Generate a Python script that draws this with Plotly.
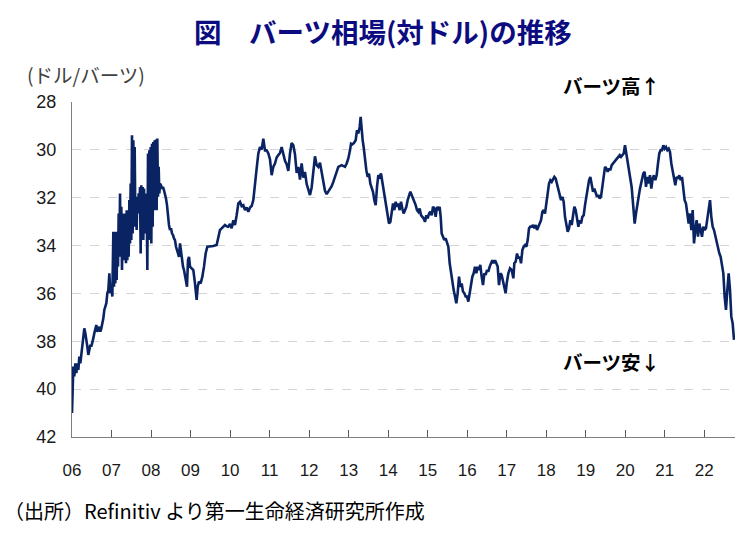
import plotly.graph_objects as go

# ---- data ----
# time as decimal years, THB per USD
t_2006 = [2006.000, 2006.017, 2006.034, 2006.059, 2006.084, 2006.110, 2006.135, 2006.160, 2006.186, 2006.211,
          2006.236, 2006.261, 2006.287, 2006.312, 2006.337, 2006.363, 2006.388, 2006.413, 2006.439, 2006.464,
          2006.489, 2006.515, 2006.540, 2006.565, 2006.590, 2006.616, 2006.641, 2006.666, 2006.692, 2006.717,
          2006.742, 2006.768, 2006.793, 2006.818, 2006.843, 2006.869, 2006.894, 2006.919, 2006.945, 2006.970,
          2006.995, 2007.021]
v_2006 = [41.00, 39.75, 39.06, 39.47, 38.92, 39.33, 38.92, 39.20, 38.64, 38.92,
          38.50, 38.22, 37.66, 37.46, 37.66, 38.08, 38.22, 38.57, 38.36, 38.15,
          38.22, 37.94, 37.87, 37.66, 37.53, 37.32, 37.60, 37.53, 37.39, 37.60,
          37.46, 37.25, 37.04, 36.69, 36.55, 36.41, 35.99, 35.86, 35.16, 35.99,
          35.72, 36.13]

t_2007 = [2007.046, 2007.063, 2007.080, 2007.096, 2007.113, 2007.130, 2007.147, 2007.164, 2007.181, 2007.198,
          2007.215, 2007.231, 2007.248, 2007.265, 2007.282, 2007.299, 2007.316, 2007.333, 2007.350, 2007.366,
          2007.383, 2007.400, 2007.417, 2007.434, 2007.451, 2007.468, 2007.484, 2007.501, 2007.518, 2007.535,
          2007.552, 2007.569, 2007.586, 2007.603, 2007.619, 2007.636, 2007.653, 2007.670, 2007.687, 2007.704,
          2007.721, 2007.737, 2007.754, 2007.771, 2007.788, 2007.805, 2007.822, 2007.839, 2007.856, 2007.872,
          2007.889, 2007.906, 2007.923, 2007.940, 2007.957, 2007.974, 2007.991]
v_2007 = [33.42, 35.72, 33.49, 35.58, 33.42, 35.44, 33.49, 34.88, 32.66, 34.47,
          31.82, 33.77, 32.38, 35.02, 32.66, 34.61, 32.80, 34.47, 32.66, 34.74,
          32.52, 34.61, 33.21, 34.47, 32.10, 33.91, 31.41, 33.77, 29.39, 33.49,
          29.60, 33.21, 29.88, 32.94, 32.10, 33.35, 31.96, 32.66, 31.82, 32.52,
          31.55, 34.33, 31.48, 32.66, 31.55, 33.77, 31.62, 32.94, 31.82, 33.49,
          32.10, 35.02, 30.15, 33.77, 30.02, 33.49, 29.88]

t_2008 = [2008.007, 2008.024, 2008.041, 2008.058, 2008.075, 2008.092, 2008.109, 2008.126, 2008.142, 2008.159,
          2008.176, 2008.193, 2008.210, 2008.227, 2008.252, 2008.277, 2008.302, 2008.328, 2008.353, 2008.378,
          2008.404, 2008.429, 2008.454, 2008.480, 2008.505, 2008.530, 2008.556, 2008.581, 2008.606, 2008.632,
          2008.657, 2008.682, 2008.708, 2008.733, 2008.758, 2008.784, 2008.809, 2008.834, 2008.860, 2008.885,
          2008.910, 2008.935, 2008.961, 2008.986]
v_2008 = [33.91, 29.74, 33.21, 29.67, 32.52, 29.60, 32.10, 29.57, 32.52, 29.53,
          31.96, 30.71, 31.82, 31.41, 31.48, 31.62, 31.55, 31.69, 31.82, 32.03,
          32.31, 32.80, 33.14, 33.35, 33.28, 33.49, 33.56, 33.70, 33.77, 34.05,
          34.19, 34.40, 34.47, 33.91, 34.26, 34.54, 34.88, 35.02, 35.23, 35.44,
          35.72, 34.61, 34.47, 34.88]

t_2009_2012 = [2009.028, 2009.070, 2009.112, 2009.154, 2009.180, 2009.213, 2009.255, 2009.298, 2009.340, 2009.382,
               2009.424, 2009.492, 2009.576, 2009.660, 2009.702, 2009.745, 2009.787, 2009.829, 2009.871, 2009.913,
               2009.955, 2009.998, 2010.040, 2010.082, 2010.124, 2010.166, 2010.209, 2010.251, 2010.293, 2010.335,
               2010.377, 2010.419, 2010.462, 2010.504, 2010.546, 2010.588, 2010.630, 2010.672, 2010.715, 2010.757,
               2010.799, 2010.841, 2010.883, 2010.925, 2010.968, 2011.010, 2011.052, 2011.094, 2011.136, 2011.178,
               2011.221, 2011.263, 2011.305, 2011.347, 2011.389, 2011.431, 2011.474, 2011.516, 2011.558, 2011.600,
               2011.642, 2011.685, 2011.727, 2011.769, 2011.811, 2011.853, 2011.895, 2011.938, 2011.980, 2012.022,
               2012.064, 2012.106, 2012.148, 2012.191, 2012.233, 2012.275, 2012.317, 2012.359, 2012.401, 2012.444,
               2012.486, 2012.528, 2012.570, 2012.612, 2012.654, 2012.697, 2012.739, 2012.823, 2012.908, 2012.950,
               2012.992]
v_2009_2012 = [34.95, 35.02, 35.58, 36.27, 35.72, 35.51, 35.58, 35.30, 34.88, 34.33,
               34.05, 34.05, 34.02, 33.98, 33.63, 33.35, 33.28, 33.21, 33.14, 33.19,
               33.21, 33.10, 33.28, 32.94, 33.14, 32.73, 32.24, 32.17, 32.35, 32.31,
               32.52, 32.41, 32.59, 32.41, 32.35, 32.10, 31.34, 30.78, 30.15, 29.88,
               29.99, 29.53, 30.02, 30.02, 30.15, 30.40, 31.06, 30.71, 30.57, 30.32,
               30.22, 30.13, 29.88, 30.22, 30.46, 30.60, 30.88, 30.15, 29.71, 29.81,
               30.18, 30.96, 30.71, 31.24, 30.57, 31.16, 30.92, 31.43, 31.68, 31.89,
               31.57, 30.85, 30.27, 30.64, 30.71, 30.54, 30.92, 31.16, 31.71, 31.85,
               31.75, 31.66, 31.52, 31.34, 31.10, 30.85, 30.71, 30.64, 30.71, 30.57,
               30.36]

t_2013_2016 = [2013.035, 2013.060, 2013.094, 2013.136, 2013.178, 2013.212, 2013.245, 2013.279, 2013.304, 2013.330,
               2013.355, 2013.380, 2013.414, 2013.448, 2013.482, 2013.515, 2013.549, 2013.583, 2013.616, 2013.650,
               2013.684, 2013.718, 2013.751, 2013.785, 2013.819, 2013.853, 2013.886, 2013.920, 2013.954, 2013.988,
               2014.021, 2014.055, 2014.089, 2014.123, 2014.156, 2014.190, 2014.224, 2014.257, 2014.291, 2014.325,
               2014.359, 2014.392, 2014.426, 2014.460, 2014.494, 2014.527, 2014.561, 2014.595, 2014.629, 2014.662,
               2014.696, 2014.730, 2014.764, 2014.797, 2014.831, 2014.865, 2014.899, 2014.932, 2014.966, 2015.000,
               2015.034, 2015.067, 2015.101, 2015.135, 2015.169, 2015.202, 2015.236, 2015.270, 2015.303, 2015.329,
               2015.354, 2015.388, 2015.422, 2015.455, 2015.489, 2015.523, 2015.557, 2015.590, 2015.624, 2015.658,
               2015.691, 2015.725, 2015.759, 2015.793, 2015.826, 2015.860, 2015.894, 2015.928, 2015.961, 2015.995,
               2016.029, 2016.063, 2016.096, 2016.130, 2016.164, 2016.197, 2016.231, 2016.265, 2016.299, 2016.332,
               2016.366, 2016.400, 2016.434, 2016.467, 2016.501, 2016.535, 2016.569, 2016.602, 2016.636, 2016.670,
               2016.704, 2016.737, 2016.771, 2016.805, 2016.838, 2016.872, 2016.906, 2016.940, 2016.973]
v_2013_2016 = [30.02, 29.74, 29.77, 29.71, 29.60, 29.18, 29.32, 29.04, 28.62, 29.32,
               29.60, 29.88, 30.43, 30.85, 31.13, 30.99, 31.41, 31.55, 31.75, 32.10,
               32.31, 31.55, 31.06, 31.13, 30.99, 31.34, 31.68, 32.03, 32.45, 32.87,
               33.08, 33.01, 32.66, 32.24, 32.52, 32.17, 32.38, 32.24, 32.52, 32.17,
               32.45, 32.66, 32.52, 32.38, 32.10, 31.89, 31.75, 31.89, 32.03, 32.10,
               32.31, 32.52, 32.59, 32.45, 32.73, 32.80, 32.87, 33.01, 32.73, 32.87,
               32.66, 32.59, 32.73, 32.38, 32.45, 32.80, 32.38, 32.52, 32.38, 32.80,
               33.49, 33.63, 33.77, 33.70, 33.91, 34.05, 34.74, 35.16, 35.58, 35.86,
               36.13, 36.41, 35.99, 35.30, 35.72, 35.58, 35.93, 35.99, 36.13, 36.13,
               36.34, 35.99, 35.72, 35.30, 35.16, 34.88, 35.16, 34.88, 35.02, 34.81,
               35.30, 35.65, 35.16, 35.23, 35.02, 35.09, 34.88, 34.74, 34.61, 34.74,
               34.61, 34.74, 34.88, 35.65, 35.16, 35.23, 35.51, 35.72, 35.99]

t_2017_2019 = [2016.999, 2017.041, 2017.083, 2017.126, 2017.168, 2017.193, 2017.227, 2017.261, 2017.294, 2017.328,
               2017.362, 2017.396, 2017.429, 2017.463, 2017.497, 2017.531, 2017.564, 2017.598, 2017.632, 2017.665,
               2017.699, 2017.733, 2017.767, 2017.800, 2017.834, 2017.868, 2017.902, 2017.935, 2017.969, 2018.003,
               2018.037, 2018.070, 2018.104, 2018.138, 2018.172, 2018.205, 2018.239, 2018.273, 2018.306, 2018.340,
               2018.374, 2018.408, 2018.441, 2018.475, 2018.509, 2018.543, 2018.576, 2018.610, 2018.644, 2018.678,
               2018.711, 2018.745, 2018.779, 2018.813, 2018.846, 2018.880, 2018.914, 2018.948, 2018.981, 2019.015,
               2019.049, 2019.083, 2019.116, 2019.150, 2019.184, 2019.217, 2019.251, 2019.285, 2019.319, 2019.352,
               2019.386, 2019.420, 2019.454, 2019.487, 2019.521, 2019.555, 2019.589, 2019.622, 2019.656, 2019.690,
               2019.724, 2019.757, 2019.791, 2019.825, 2019.859, 2019.892, 2019.926, 2019.960, 2019.993]
v_2017_2019 = [35.58, 35.16, 34.95, 35.02, 35.37, 34.74, 34.67, 34.33, 34.54, 34.47,
               34.74, 34.19, 34.05, 33.98, 34.05, 33.77, 33.28, 33.21, 33.21, 33.14,
               33.28, 33.14, 33.35, 33.21, 33.01, 32.94, 32.59, 32.52, 32.66, 32.10,
               31.82, 31.41, 31.27, 31.34, 31.20, 31.13, 31.20, 31.41, 31.62, 31.89,
               32.10, 31.96, 32.17, 32.80, 33.21, 33.42, 33.28, 32.94, 33.14, 32.66,
               32.38, 32.52, 32.94, 33.21, 32.94, 33.08, 32.80, 32.73, 32.31, 31.96,
               31.55, 31.27, 31.13, 31.48, 31.75, 31.62, 31.82, 31.96, 31.89, 32.03,
               31.96, 31.55, 31.27, 30.71, 30.78, 30.92, 30.78, 30.85, 30.64, 30.57,
               30.50, 30.43, 30.36, 30.29, 30.22, 30.29, 30.22, 30.15, 29.81]

t_2020_2022 = [2020.035, 2020.077, 2020.119, 2020.161, 2020.203, 2020.237, 2020.271, 2020.305, 2020.338, 2020.372,
               2020.414, 2020.456, 2020.490, 2020.524, 2020.558, 2020.591, 2020.625, 2020.659, 2020.693, 2020.726,
               2020.760, 2020.794, 2020.828, 2020.861, 2020.895, 2020.929, 2020.963, 2020.996, 2021.030, 2021.064,
               2021.098, 2021.131, 2021.165, 2021.199, 2021.233, 2021.266, 2021.300, 2021.334, 2021.367, 2021.401,
               2021.435, 2021.469, 2021.502, 2021.536, 2021.570, 2021.604, 2021.637, 2021.671, 2021.705, 2021.739,
               2021.772, 2021.806, 2021.840, 2021.874, 2021.907, 2021.941, 2021.975, 2022.009, 2022.042, 2022.076,
               2022.110, 2022.144, 2022.177, 2022.211, 2022.245, 2022.278, 2022.312, 2022.346, 2022.380, 2022.413,
               2022.447, 2022.481, 2022.515, 2022.548, 2022.582, 2022.616, 2022.650, 2022.683, 2022.717, 2022.751]
v_2020_2022 = [30.29, 30.71, 31.27, 31.55, 32.38, 33.08, 32.66, 32.38, 31.96, 31.62,
               31.27, 30.99, 30.92, 31.55, 31.13, 31.41, 31.06, 31.62, 31.20, 31.06,
               31.27, 31.06, 30.57, 30.15, 30.01, 30.01, 29.81, 29.95, 29.88, 30.01,
               29.95, 30.08, 30.57, 30.85, 31.27, 31.48, 31.13, 31.20, 31.06, 31.27,
               31.13, 31.69, 32.10, 32.24, 32.66, 33.08, 32.66, 33.35, 32.52, 33.91,
               33.35, 32.94, 33.63, 33.08, 33.35, 33.63, 33.21, 33.35, 33.28, 32.94,
               32.52, 32.10, 32.80, 33.21, 33.35, 33.63, 33.77, 34.05, 34.33, 34.47,
               34.74, 35.16, 36.14, 36.69, 35.86, 35.16, 35.86, 36.97, 37.25, 37.94]

year_ticks = list(range(2006, 2023))
year_labels = ["06", "07", "08", "09", "10", "11", "12", "13", "14", "15", "16", "17", "18", "19", "20", "21", "22"]
y_ticks = [28, 30, 32, 34, 36, 38, 40, 42]

t_all = t_2006 + t_2007 + t_2008 + t_2009_2012 + t_2013_2016 + t_2017_2019 + t_2020_2022
v_all = v_2006 + v_2007 + v_2008 + v_2009_2012 + v_2013_2016 + v_2017_2019 + v_2020_2022

# ---- layout geometry ----
W, H = 751, 541
L, R, T, B = 72, 16, 102, 104
PW, PH = W - L - R, H - T - B


def px(x):
    return (x - L) / PW


def py(y):
    return (H - B - y) / PH


JP = "Noto Sans CJK JP"
NUM = "Liberation Sans"

fig = go.Figure()
fig.add_trace(go.Scatter(x=t_all, y=v_all, mode="lines",
                         line=dict(color="#0a2463", width=2.6), hoverinfo="skip",
                         showlegend=False))

fig.update_layout(
    width=W, height=H,
    margin=dict(l=L, r=R, t=T, b=B, pad=0),
    paper_bgcolor="white", plot_bgcolor="white",
    showlegend=False,
    xaxis=dict(range=[2006, 2006 + PW / 39.52], tickmode="array", tickvals=year_ticks,
               ticktext=year_labels, ticks="inside", ticklen=7, tickwidth=1, tickcolor="#595959",
               showline=True, linecolor="#7f7f7f", linewidth=1.3, showgrid=False, zeroline=False,
               tickfont=dict(family=NUM, size=17, color="#1a1a1a"), ticklabelstandoff=17),
    yaxis=dict(range=[42, 28], tickmode="array", tickvals=y_ticks, ticks="",
               showline=True, linecolor="#7f7f7f", linewidth=1.3, showgrid=True,
               gridcolor="#d4d4d4", griddash="dash", gridwidth=1, zeroline=False,
               tickfont=dict(family=NUM, size=18, color="#1a1a1a"), ticklabelstandoff=11),
)

ann = [
    dict(text="<b>図　バーツ相場(対ドル)の推移</b>", x=px(383), y=py(31), xanchor="center", yanchor="middle",
         font=dict(family=JP, size=27.5, color="#0c0c80")),
    dict(text="(ドル/バーツ)", x=px(25), y=py(74), xanchor="left", yanchor="middle",
         font=dict(family=JP, size=19.5, color="#404040")),
    dict(text="<b>バーツ高↑</b>", x=px(561), y=py(86), xanchor="left", yanchor="middle",
         font=dict(family=JP, size=19.5, color="#000000")),
    dict(text="<b>バーツ安↓</b>", x=px(561), y=py(361), xanchor="left", yanchor="middle",
         font=dict(family=JP, size=19.5, color="#000000")),
    dict(text="（出所）Refinitiv より第一生命経済研究所作成", x=px(2), y=py(510), xanchor="left",
         yanchor="middle", font=dict(family=JP, size=20, color="#000000")),
]
for a in ann:
    a.update(xref="paper", yref="paper", showarrow=False)
fig.update_layout(annotations=ann)

fig.write_html("out.html")
